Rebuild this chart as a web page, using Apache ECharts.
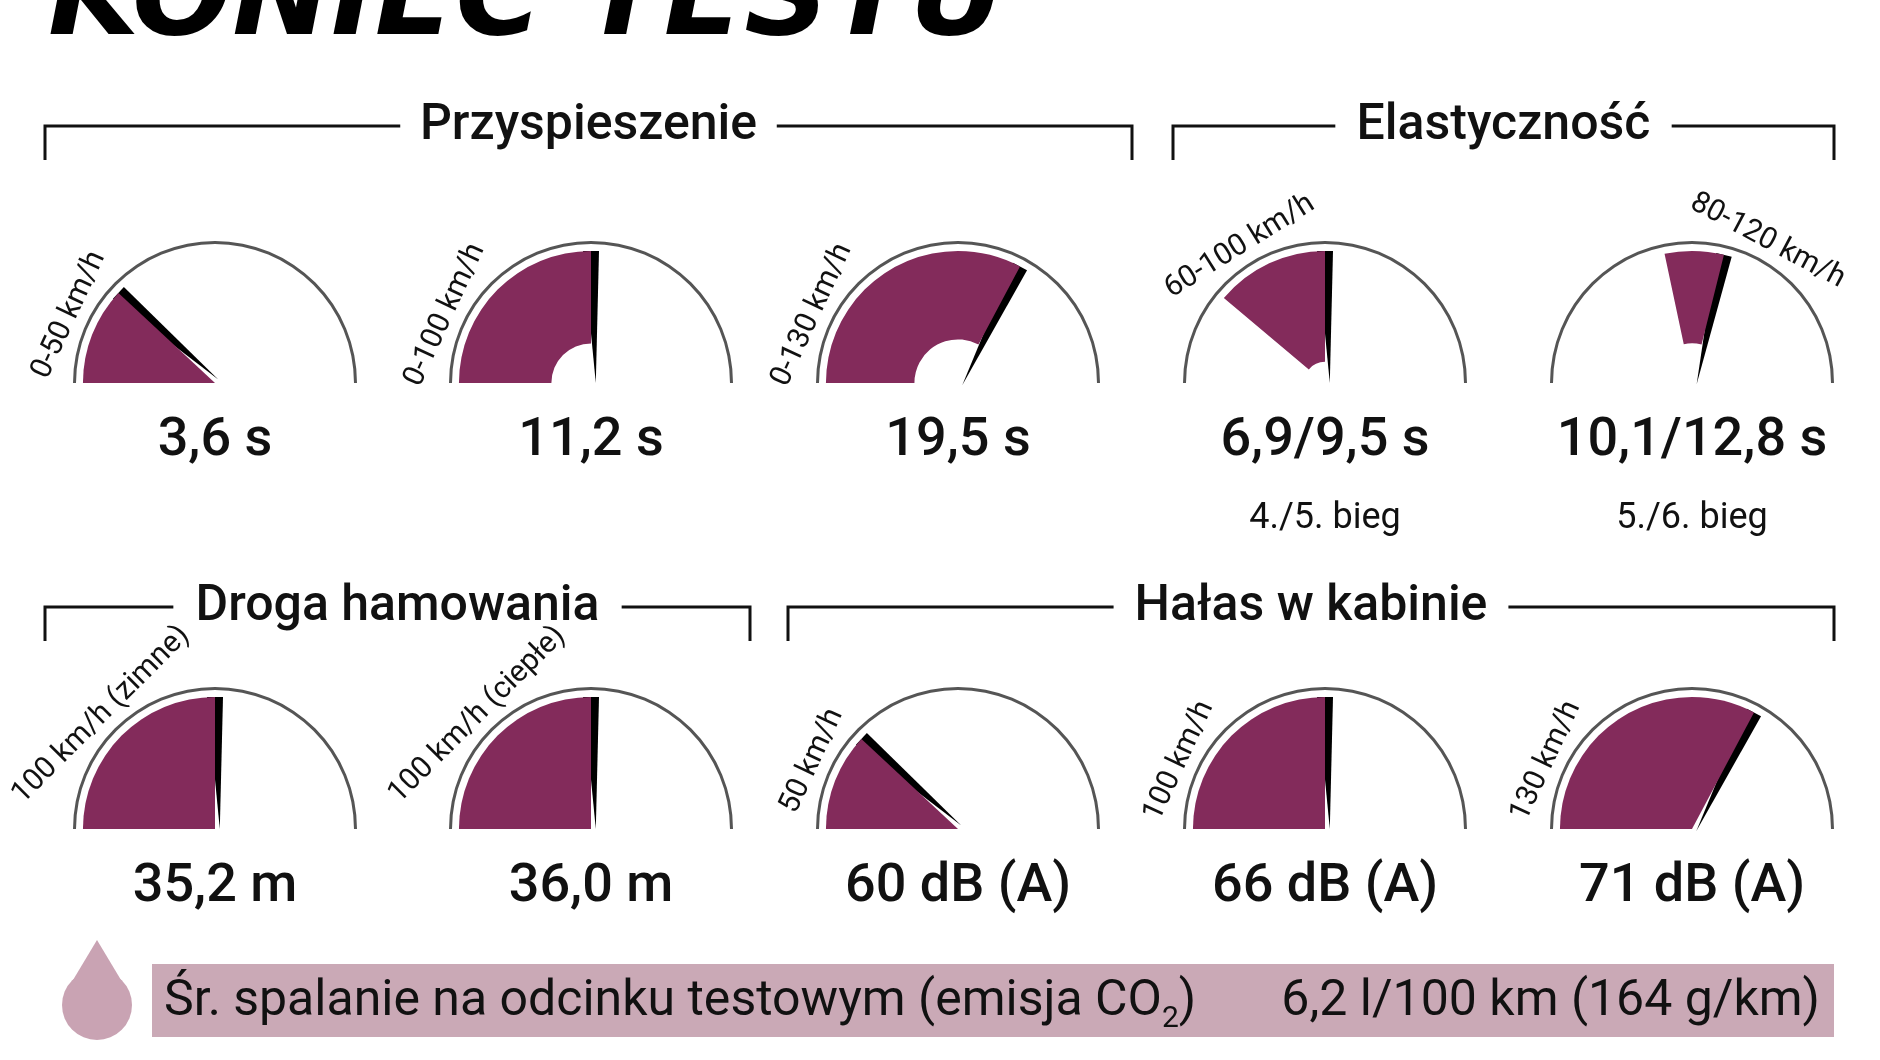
<!DOCTYPE html>
<html><head><meta charset="utf-8">
<script src="https://cdn.jsdelivr.net/npm/echarts@6/dist/echarts.min.js"></script>
<style>html,body{margin:0;background:#fff}#c{width:1880px;height:1060px}</style>
</head><body><div id="c"></div>
<script>
// dane
var speedLabels = ['0-50 km/h','0-100 km/h','0-130 km/h','60-100 km/h','80-120 km/h',
                   '100 km/h (zimne)','100 km/h (ciepłe)','50 km/h','100 km/h','130 km/h'];
var valueTexts = ['3,6 s','11,2 s','19,5 s','6,9/9,5 s','10,1/12,8 s',
                  '35,2 m','36,0 m','60 dB (A)','66 dB (A)','71 dB (A)'];
var startAngles = [180,180,180,140,102,180,180,180,180,180]; // kąt początku wycinka
var needleAngles = [137,90,62,90,76,90,90,137,90,62];        // kąt wskazówki
var holeRatio = [0,0.3,0.33,0.16,0.3,0,0,0,0,0];
var subTexts = ['','','','4./5. bieg','5./6. bieg','','','','',''];
var sections = [
  {name:'Przyspieszenie', x1:45, x2:1132, y:126},
  {name:'Elastyczność', x1:1173, x2:1834, y:126},
  {name:'Droga hamowania', x1:45, x2:750, y:607},
  {name:'Hałas w kabinie', x1:788, x2:1834, y:607}
];
var fuelText = 'Śr. spalanie na odcinku testowym (emisja CO';
var fuelValue = '6,2 l/100 km (164 g/km)';

var colX = [215,591,958,1325,1692];
var rowY = [383,829];
var R = 142;
var labelAngle = [155,155,155,122,62,135,135,155,155,155];
var purple = '#832b5b';
var font = '"Liberation Sans Narrow","Roboto","DejaVu Sans",sans-serif';

var chart = echarts.init(document.getElementById('c'));
var series = [], graphic = [];

for (var i = 0; i < 10; i++) {
  var cx = colX[i % 5], cy = rowY[Math.floor(i / 5)];
  var sweep = startAngles[i] - needleAngles[i];
  series.push({
    type: 'pie', center: [cx, cy], radius: [R * 0.93 * holeRatio[i], R * 0.93],
    startAngle: startAngles[i], silent: true, label: {show: false}, labelLine: {show: false},
    data: [{value: sweep, itemStyle: {color: purple}},
           {value: 360 - sweep, itemStyle: {color: 'rgba(0,0,0,0)'}}]
  });
  series.push({
    type: 'gauge', center: [cx, cy], radius: R, startAngle: 180, endAngle: 0,
    min: 0, max: 180, silent: true,
    axisLine: {lineStyle: {width: 3, color: [[1, '#555']]}},
    axisTick: {show: false}, splitLine: {show: false}, axisLabel: {show: false},
    pointer: {icon: 'path://M0,0 L2,0 L1.6,20 Z', length: '93%', width: 16,
      offsetCenter: [0, 0], itemStyle: {color: '#000'}},
    anchor: {show: false}, title: {show: false}, detail: {show: false},
    data: [{value: 180 - needleAngles[i]}]
  });
  var a = labelAngle[i] * Math.PI / 180;
  graphic.push({
    type: 'text', x: cx + Math.cos(a) * (R + 4), y: cy - Math.sin(a) * (R + 4),
    rotation: (labelAngle[i] - 90) * Math.PI / 180,
    style: {text: speedLabels[i], font: '30px ' + font, fill: '#111',
      align: 'center', verticalAlign: 'bottom'}
  });
  graphic.push({
    type: 'text', x: cx, y: cy + 58,
    style: {text: valueTexts[i], font: '500 54px ' + font, fill: '#111',
      align: 'center', verticalAlign: 'middle'}
  });
  if (subTexts[i]) graphic.push({
    type: 'text', x: cx, y: cy + 136,
    style: {text: subTexts[i], font: '36px ' + font, fill: '#111',
      align: 'center', verticalAlign: 'middle'}
  });
}

sections.forEach(function (s) {
  var mid = (s.x1 + s.x2) / 2;
  var ctx = document.createElement('canvas').getContext('2d');
  ctx.font = '50px ' + font;
  var half = ctx.measureText(s.name).width / 2 + 22;
  var ls = {stroke: '#111', lineWidth: 3, fill: null};
  graphic.push({type: 'polyline', shape: {points: [[s.x1, s.y + 34], [s.x1, s.y], [mid - half, s.y]]}, style: ls});
  graphic.push({type: 'polyline', shape: {points: [[mid + half, s.y], [s.x2, s.y], [s.x2, s.y + 34]]}, style: ls});
  graphic.push({type: 'text', x: mid, y: s.y,
    style: {text: s.name, font: '500 50px ' + font, fill: '#111', align: 'center', verticalAlign: 'middle'}});
});

graphic.push({type: 'text', x: 48, y: 62,
  style: {text: 'KONIEC TESTU', font: 'italic 900 118px "DejaVu Sans",sans-serif', fill: '#000', verticalAlign: 'bottom'}});
graphic.push({type: 'rect', shape: {x: 152, y: 964, width: 1682, height: 73}, style: {fill: '#caa9b6'}});
graphic.push({type: 'circle', shape: {cx: 97, cy: 1005, r: 35}, style: {fill: '#c9a3b3'}});
graphic.push({type: 'polygon', shape: {points: [[97, 940], [64, 995], [130, 995]]}, style: {fill: '#c9a3b3'}});
graphic.push({type: 'text', x: 164, y: 1002,
  style: {text: fuelText + '{s|2})', font: '50px ' + font, fill: '#111', verticalAlign: 'middle',
    rich: {s: {font: '30px ' + font, fill: '#111', padding: [34, 0, 0, 0]}}}});
graphic.push({type: 'text', x: 1820, y: 1002,
  style: {text: fuelValue, font: '50px ' + font, fill: '#111', align: 'right', verticalAlign: 'middle'}});

chart.setOption({animation: false, series: series, graphic: graphic});
</script></body></html>
